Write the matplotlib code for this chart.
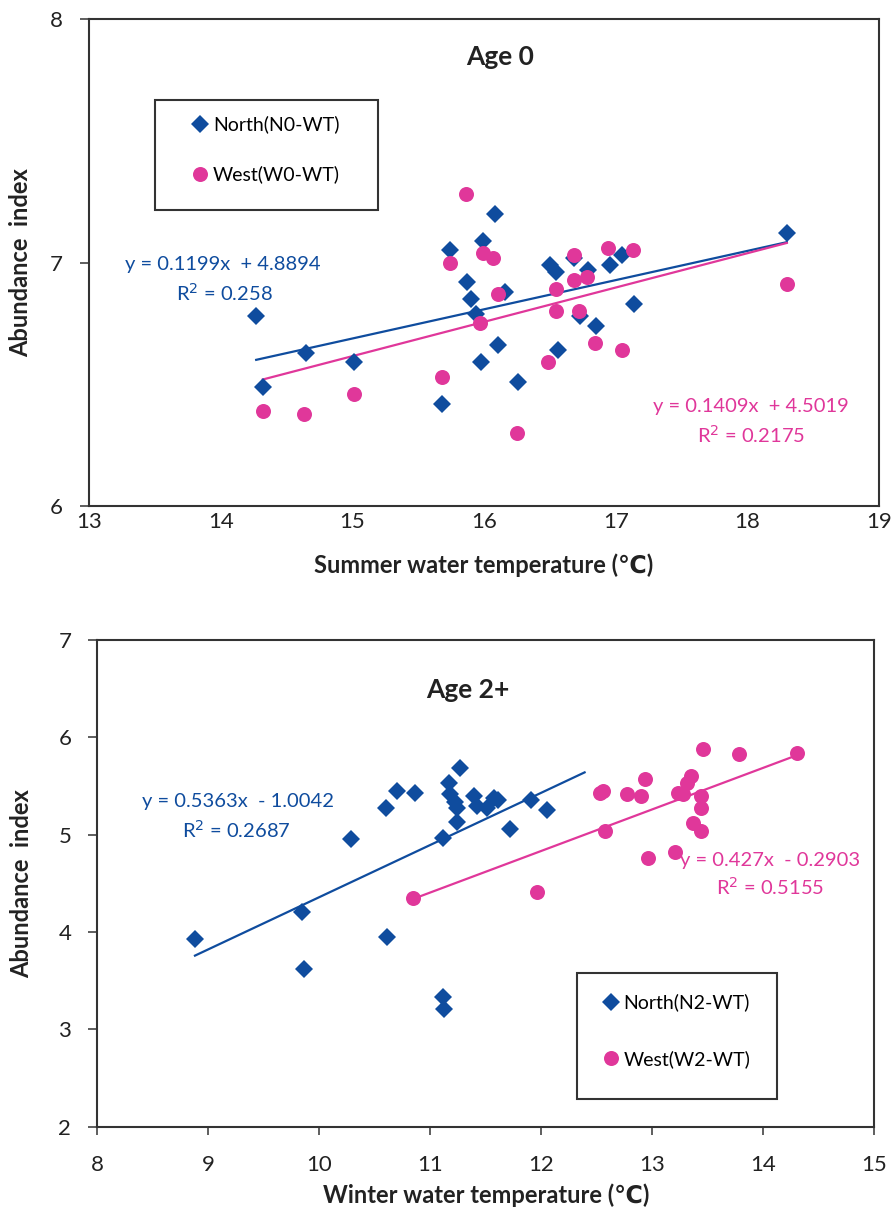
import numpy as np
import matplotlib
matplotlib.use('Agg')
import matplotlib.pyplot as plt
from matplotlib.patches import Rectangle

plt.rcParams['font.family'] = ['Lato', 'DejaVu Sans']

azul = '#0F4C9E'
rosa = '#E0379A'
gris = '#333333'

# Age 0 - summer water temperature
x_norte0 = [14.27, 14.32, 14.65, 15.01, 15.68, 15.74, 15.87, 15.90, 15.94, 15.98, 15.99, 16.08, 16.11,
            16.16, 16.26, 16.50, 16.55, 16.56, 16.68, 16.73, 16.79, 16.85, 16.96, 17.05, 17.14, 18.30]
y_norte0 = [6.78, 6.49, 6.63, 6.59, 6.42, 7.05, 6.92, 6.85, 6.79, 6.59, 7.09, 7.20, 6.66,
            6.88, 6.51, 6.99, 6.96, 6.64, 7.02, 6.78, 6.97, 6.74, 6.99, 7.03, 6.83, 7.12]
x_oeste0 = [14.32, 14.63, 15.01, 15.68, 15.74, 15.86, 15.97, 15.99, 16.07, 16.11, 16.25, 16.49,
            16.55, 16.55, 16.68, 16.68, 16.72, 16.78, 16.84, 16.94, 17.05, 17.13, 18.30]
y_oeste0 = [6.39, 6.38, 6.46, 6.53, 7.00, 7.28, 6.75, 7.04, 7.02, 6.87, 6.30, 6.59,
            6.89, 6.80, 7.03, 6.93, 6.80, 6.94, 6.67, 7.06, 6.64, 7.05, 6.91]

# Age 2+ - winter water temperature
x_norte2 = [8.88, 9.84, 9.86, 10.29, 10.60, 10.61, 10.70, 10.86, 11.11, 11.11, 11.12, 11.17, 11.18,
            11.22, 11.24, 11.24, 11.27, 11.39, 11.42, 11.51, 11.57, 11.61, 11.72, 11.91, 12.05]
y_norte2 = [3.93, 4.21, 3.62, 4.96, 5.27, 3.95, 5.45, 5.43, 4.97, 3.33, 3.21, 5.53, 5.42,
            5.34, 5.27, 5.13, 5.69, 5.40, 5.30, 5.27, 5.38, 5.36, 5.06, 5.36, 5.25]
x_oeste2 = [10.84, 11.96, 12.53, 12.56, 12.57, 12.77, 12.90, 12.93, 12.96, 13.20, 13.23, 13.28,
            13.31, 13.35, 13.37, 13.44, 13.44, 13.44, 13.46, 13.78, 14.30]
y_oeste2 = [4.35, 4.41, 5.43, 5.45, 5.04, 5.42, 5.40, 5.57, 4.76, 4.82, 5.43, 5.42,
            5.53, 5.60, 5.12, 5.40, 5.27, 5.04, 5.88, 5.83, 5.84]

# trend lines (coefficients as printed, x range as drawn)
tend_n0 = (0.1199, 4.8894, [14.27, 18.30])
tend_o0 = (0.1409, 4.5019, [14.32, 18.30])
tend_n2 = (0.5363, -1.0042, [8.88, 12.39])
tend_o2 = (0.427, -0.2903, [10.84, 14.30])

fig = plt.figure(figsize=(8.95, 12.25), dpi=100)
ax1 = fig.add_axes([0.0994, 0.5869, 0.8827, 0.3976])
ax2 = fig.add_axes([0.1087, 0.0802, 0.8682, 0.3973])


def dibujar(ax, xn, yn, xo, yo, tn, to, etiq_n, etiq_o, pos_leg, caja, sep):
    ax.plot(xn, yn, 'D', color=azul, ms=8.8, mew=0, label=etiq_n, zorder=3)
    ax.plot(xo, yo, 'o', color=rosa, ms=10.8, mew=0, label=etiq_o, zorder=3)
    for (a, b, xr), c in [(tn, azul), (to, rosa)]:
        xr = np.array(xr)
        ax.plot(xr, a * xr + b, '-', color=c, lw=1.6, zorder=2)
    for s in ax.spines.values():
        s.set_color(gris)
        s.set_linewidth(1.5)
    ax.tick_params(axis='y', direction='out', length=6.7, width=1.1, color=gris,
                   labelsize=16, labelcolor='#222222', pad=12)
    ax.set_ylabel('Abundance  index', fontsize=17, fontweight='bold', color='#222222')
    ax.yaxis.label.set_va('center')
    ax.xaxis.label.set_va('center')
    leg = ax.legend(loc='upper left', bbox_to_anchor=pos_leg, fontsize=14, frameon=False,
                    handlelength=0.72, handletextpad=0.3, labelspacing=sep, borderpad=0,
                    borderaxespad=0)
    ax.add_patch(Rectangle(caja[:2], caja[2], caja[3], transform=ax.transAxes, fill=False,
                           edgecolor=gris, lw=1.5, zorder=4))
    return leg


dibujar(ax1, x_norte0, y_norte0, x_oeste0, y_oeste0, tend_n0, tend_o0,
        'North(N0-WT)', 'West(W0-WT)', (0.1316, 0.8018), (0.0835, 0.6078, 0.2823, 0.2259), 1.65)
ax1.set_xlim(13, 19)
ax1.set_ylim(6, 8)
ax1.set_xticks(range(13, 20))
ax1.set_yticks([6, 7, 8])
ax1.tick_params(axis='x', length=0, labelsize=16, labelcolor='#222222', pad=4)
ax1.set_xlabel('Summer water temperature (℃)', fontsize=17, fontweight='bold', color='#222222')
ax1.xaxis.set_label_coords(0.5, -0.121)
ax1.yaxis.set_label_coords(-0.086, 0.5)
ax1.text(0.52, 0.922, 'Age 0', transform=ax1.transAxes, ha='center', va='center',
         fontsize=19, fontweight='bold', color='#222222')
ax1.text(14.02, 6.99, 'y = 0.1199x  + 4.8894', color=azul, fontsize=14.5, ha='center', va='center')
ax1.text(14.03, 6.877, 'R$^2$ = 0.258', color=azul, fontsize=14.5, ha='center', va='center')
ax1.text(18.03, 6.41, 'y = 0.1409x  + 4.5019', color=rosa, fontsize=14.5, ha='center', va='center')
ax1.text(18.03, 6.294, 'R$^2$ = 0.2175', color=rosa, fontsize=14.5, ha='center', va='center')

dibujar(ax2, x_norte2, y_norte2, x_oeste2, y_oeste2, tend_n2, tend_o2,
        'North(N2-WT)', 'West(W2-WT)', (0.6517, 0.2737), (0.6174, 0.0569, 0.2574, 0.2589), 2.0)
ax2.set_xlim(8, 15)
ax2.set_ylim(2, 7)
ax2.set_xticks(range(8, 16))
ax2.set_yticks(range(2, 8))
ax2.tick_params(axis='x', direction='out', length=6, width=1.1, color=gris,
                labelsize=16, labelcolor='#222222', pad=14)
ax2.set_xlabel('Winter water temperature (℃)', fontsize=17, fontweight='bold', color='#222222')
ax2.xaxis.set_label_coords(0.5, -0.14)
ax2.yaxis.set_label_coords(-0.098, 0.5)
ax2.text(0.477, 0.897, 'Age 2+', transform=ax2.transAxes, ha='center', va='center',
         fontsize=19, fontweight='bold', color='#222222')
ax2.text(9.27, 5.34, 'y = 0.5363x  - 1.0042', color=azul, fontsize=14.5, ha='center', va='center')
ax2.text(9.25, 5.05, 'R$^2$ = 0.2687', color=azul, fontsize=14.5, ha='center', va='center')
ax2.text(14.06, 4.74, 'y = 0.427x  - 0.2903', color=rosa, fontsize=14.5, ha='center', va='center')
ax2.text(14.06, 4.465, 'R$^2$ = 0.5155', color=rosa, fontsize=14.5, ha='center', va='center')

fig.savefig('out.png', dpi=100)
